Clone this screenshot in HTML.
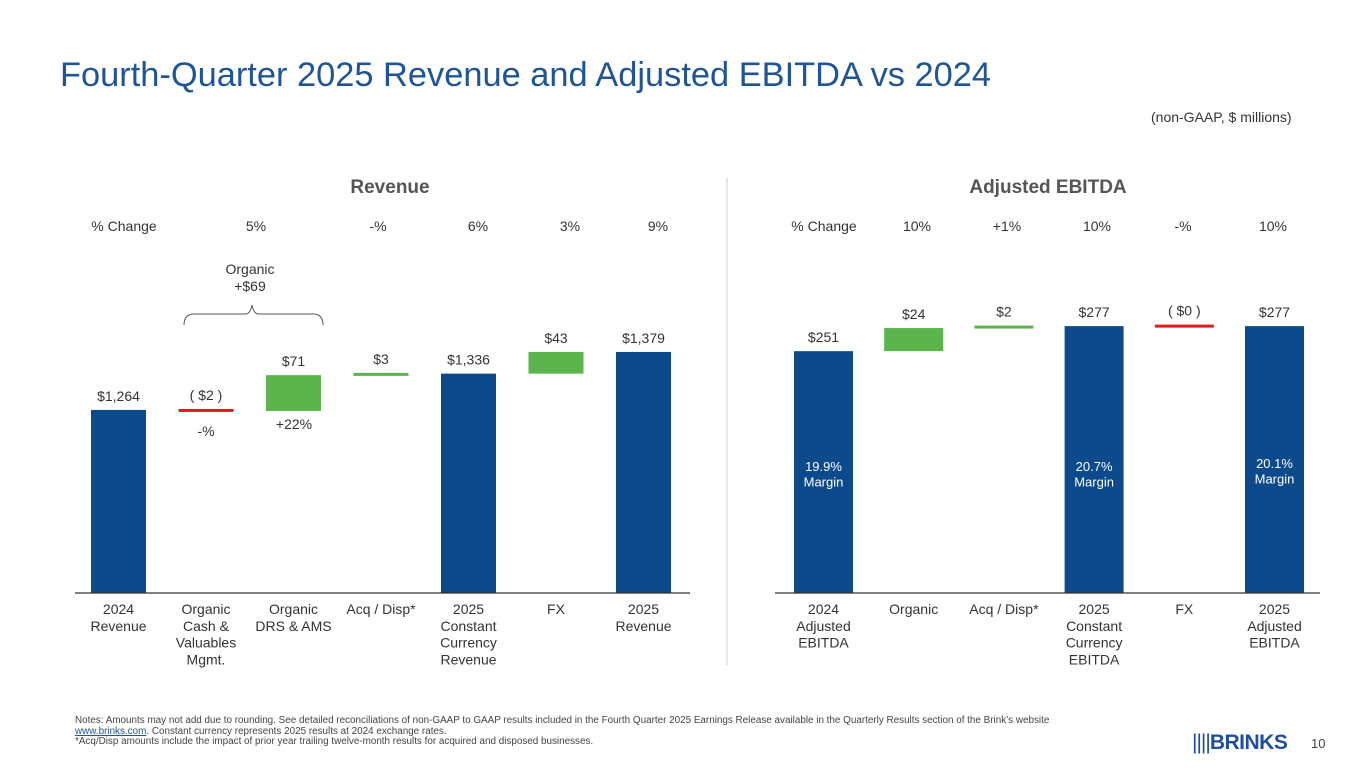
<!DOCTYPE html>
<html><head><meta charset="utf-8"><style>
body{margin:0;width:1365px;height:768px;background:#fff;font-family:"Liberation Sans",Arial,sans-serif;overflow:hidden;position:relative}
.t{position:absolute;white-space:nowrap}
svg text{font-family:"Liberation Sans",Arial,sans-serif}
</style></head><body>
<div class="t" style="left:60px;top:56px;font-size:34.4px;color:#1f5597">Fourth-Quarter 2025 Revenue and Adjusted EBITDA vs 2024</div>
<div class="t" style="left:1151px;top:109px;font-size:14px;color:#333">(non-GAAP, $ millions)</div>
<svg id="chart" width="1365" height="768" style="position:absolute;left:0;top:0"></svg>
<div class="t" style="left:75px;top:716px;font-size:9.9px;color:#444;line-height:10.5px">Notes: Amounts may not add due to rounding. See detailed reconciliations of non-GAAP to GAAP results included in the Fourth Quarter 2025 Earnings Release available in the Quarterly Results section of the Brink’s website<br><span style="color:#1f5597;text-decoration:underline">www.brinks.com</span>. Constant currency represents 2025 results at 2024 exchange rates.<br>*Acq/Disp amounts include the impact of prior year trailing twelve-month results for acquired and disposed businesses.</div>
<div class="t" style="left:1192px;top:731px;font-size:21px;font-weight:bold;color:#1f4e9c;letter-spacing:-0.5px"><span style="letter-spacing:-1px;font-weight:normal">||||</span>BRINKS</div>
<div class="t" style="left:1311px;top:736px;font-size:13px;color:#444">10</div>
<script>
const revCats=["2024\nRevenue","Organic\nCash &\nValuables\nMgmt.","Organic\nDRS & AMS","Acq / Disp*","2025\nConstant\nCurrency\nRevenue","FX","2025\nRevenue"];
const revVals=[1264,-2,71,3,1336,43,1379];
const revTypes=["total","delta","delta","delta","total","delta","total"];
const revLabels=["$1,264","( $2 )","$71","$3","$1,336","$43","$1,379"];
const revPct=["% Change","5%","-%","6%","3%","9%"];
const ebCats=["2024\nAdjusted\nEBITDA","Organic","Acq / Disp*","2025\nConstant\nCurrency\nEBITDA","FX","2025\nAdjusted\nEBITDA"];
const ebVals=[251,24,2,277,0,277];
const ebTypes=["total","delta","delta","total","delta","total"];
const ebLabels=["$251","$24","$2","$277","( $0 )","$277"];
const ebPct=["% Change","10%","+1%","10%","-%","10%"];
const ebMargins=["19.9%\nMargin","","","20.7%\nMargin","","20.1%\nMargin"];
const svg=document.getElementById('chart');const NS='http://www.w3.org/2000/svg';
function el(t,a,p){const e=document.createElementNS(NS,t);for(const k in a)e.setAttribute(k,a[k]);(p||svg).appendChild(e);return e;}
function txt(x,y,s,size,fill,anchor,w){const e=el('text',{x:x,y:y,'font-size':size,fill:fill,'text-anchor':anchor||'middle','font-weight':w||'normal'});s.split('\n').forEach((l,i)=>{const ts=el('tspan',{x:x,dy:i?size*1.2:0},e);ts.textContent=l;});return e;}
const BLUE='#0d4a8c',GREEN='#5cb54c',RED='#e3171e',BASE=593;
function drawChart(cats,vals,types,labels,x0,pitch,bw,yv,pfx,pcts,pctX){
  let run=0;
  cats.forEach((c,i)=>{
    const cx=x0+i*pitch;let top,bot,col;
    if(types[i]==='total'){run=vals[i];top=yv(run);bot=BASE;col=BLUE;}
    else{const a=run,b=run+vals[i];run=b;top=Math.min(yv(a),yv(b));bot=Math.max(yv(a),yv(b));col=vals[i]<0||(vals[i]===0)?RED:GREEN;}
    let h=bot-top;if(h<3){top=(top+bot)/2-1.5;h=3;}
    const r=el('rect',{x:cx-bw/2,y:top,width:bw,height:h,fill:col});
    
    
    const lt=txt(cx,top-9,labels[i],14,'#333');
    
    
    const ct=txt(cx,BASE+21,c,14,'#333');
    
    
  });
  pcts.forEach((p,i)=>{const t=txt(pctX[i],231,p,14,'#333');});
}
const rk=0.5043,rbase=901;
drawChart(revCats,revVals,revTypes,revLabels,118.5,87.5,55,v=>BASE-(v-rbase)*rk,'revenue',revPct,[124,256,378,478,570,658]);
const ek=0.9635;
drawChart(ebCats,ebVals,ebTypes,ebLabels,823.5,90.2,59,v=>BASE-v*ek,'ebitda',ebPct,[824,917,1007,1097,1183,1273]);
let t=txt(206,436,'-%',14,'#333');
t=txt(294,429,'+22%',14,'#333');
ebMargins.forEach((m,i)=>{if(!m)return;const yy=i===5?468:471;const e=txt(823.5+i*90.2,yy,m,13,'#fff');});
t=txt(390,193,'Revenue',19,'#555','middle','bold');
t=txt(1048,193,'Adjusted EBITDA',19,'#555','middle','bold');
t=txt(250,274,'Organic\n+$69',14,'#333');
let b=el('path',{d:'M184,325 Q184,314 194,314 L246,314 Q250,314 252,305 Q254,314 258,314 L313,314 Q323,314 323,325',fill:'none',stroke:'#555','stroke-width':1});

let l=el('line',{x1:75,y1:BASE,x2:690,y2:BASE,stroke:'#333','stroke-width':1.2});
l=el('line',{x1:775,y1:BASE,x2:1320,y2:BASE,stroke:'#333','stroke-width':1.2});
l=el('line',{x1:727,y1:178,x2:727,y2:665,stroke:'#bcd3ea','stroke-width':1});
</script>
</body></html>
